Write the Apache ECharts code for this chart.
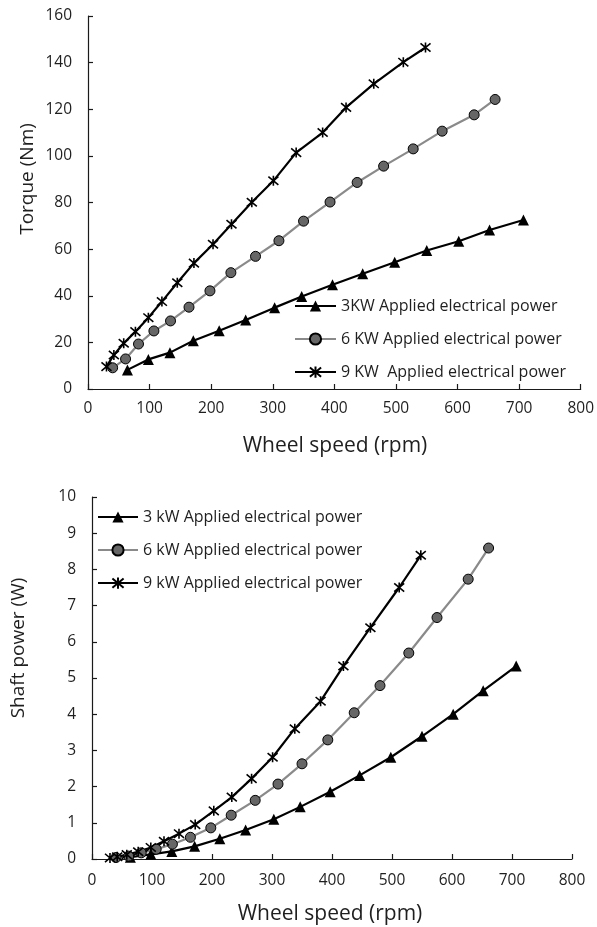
<!DOCTYPE html>
<html>
<head>
<meta charset="utf-8">
<script src="https://cdn.jsdelivr.net/npm/echarts@6/dist/echarts.min.js"></script>
<style>
  html, body { margin: 0; padding: 0; background: #fff; }
  #chart { width: 597px; height: 927px; }
</style>
</head>
<body>
<div id="chart"></div>
<script>
// Wheel speed (rpm) for each applied power level
const speed3kW = [64, 98, 133, 171, 213, 256, 303, 347, 397, 446, 498, 550, 602, 652, 707];
const speed6kW = [40, 61, 82, 107, 134, 164, 198, 232, 272, 310, 350, 393, 437, 480, 528, 575, 627, 661];
const speed9kW = [30, 42, 58, 77, 98, 120, 145, 172, 203, 233, 266, 301, 338, 381, 419, 464, 512, 548];

// Torque (Nm)
const torque3kW = [8.2, 12.7, 15.6, 20.7, 25.0, 29.6, 34.9, 39.7, 44.7, 49.4, 54.4, 59.4, 63.4, 68.2, 72.5];
const torque6kW = [9.1, 12.9, 19.3, 24.9, 29.2, 35.1, 42.1, 49.9, 56.9, 63.6, 72.0, 80.2, 88.6, 95.6, 103.0, 110.6, 117.6, 124.2];
const torque9kW = [9.6, 14.6, 19.6, 24.6, 30.6, 37.5, 45.6, 54.0, 62.1, 70.7, 80.1, 89.3, 101.4, 110.0, 120.8, 130.9, 140.2, 146.5];

// Shaft power
const power3kW = [0.05, 0.13, 0.21, 0.35, 0.56, 0.80, 1.10, 1.44, 1.86, 2.31, 2.81, 3.39, 4.00, 4.65, 5.33];
const power6kW = [0.04, 0.08, 0.17, 0.27, 0.41, 0.60, 0.86, 1.21, 1.62, 2.07, 2.63, 3.29, 4.04, 4.79, 5.69, 6.67, 7.73, 8.59];
const power9kW = [0.03, 0.06, 0.12, 0.20, 0.32, 0.49, 0.70, 0.95, 1.33, 1.71, 2.22, 2.81, 3.60, 4.36, 5.33, 6.39, 7.50, 8.39];

// Legend labels
const torqueNames = ['3KW Applied electrical power', '6 KW Applied electrical power', '9 KW  Applied electrical power'];
const powerNames = ['3 kW Applied electrical power', '6 kW Applied electrical power', '9 kW Applied electrical power'];

const FONT = 'Open Sans';
const TEXT = '#1f1f1f';
const AXIS = '#1a1a1a';

const pairs = (xs, ys) => xs.map((x, i) => [x, ys[i]]);

const STAR = 'path://M0,0L10,10M10,0L0,10M5,-1L5,11';

const styles = [
  { symbol: 'triangle', symbolSize: 11, line: '#000', item: { color: '#000' } },
  { symbol: 'circle', symbolSize: 10, line: '#8a8a8a', item: { color: '#666', borderColor: '#000', borderWidth: 1 } },
  { symbol: STAR, symbolSize: 10, line: '#000', item: { color: 'none', borderColor: '#000', borderWidth: 1.6 } }
];

function makeSeries(name, data, s, idx) {
  return {
    type: 'line',
    name: name,
    xAxisIndex: idx,
    yAxisIndex: idx,
    data: data,
    symbol: s.symbol,
    symbolSize: s.symbolSize,
    showAllSymbol: true,
    lineStyle: { color: s.line, width: 2.2 },
    itemStyle: s.item,
    emphasis: { disabled: true },
    animation: false
  };
}

function xAxisDef(idx) {
  return {
    type: 'value', gridIndex: idx, min: 0, max: 800, interval: 100,
    splitLine: { show: false },
    axisLine: { show: true, onZero: false, lineStyle: { color: AXIS, width: 1.2 } },
    axisTick: { show: true, inside: true, length: 5, lineStyle: { color: AXIS, width: 1.2 } },
    axisLabel: { color: TEXT, fontFamily: FONT, fontSize: 15.5, margin: idx === 0 ? 12 : 14 }
  };
}

function yAxisDef(idx, max) {
  return {
    type: 'value', gridIndex: idx, min: 0, max: max, interval: idx === 0 ? 20 : 1,
    splitLine: { show: false },
    axisLine: { show: true, lineStyle: { color: AXIS, width: 1.2 } },
    axisTick: { show: true, inside: true, length: 5, lineStyle: { color: AXIS, width: 1.2 } },
    axisLabel: { color: TEXT, fontFamily: FONT, fontSize: 15.5, margin: 16 }
  };
}

const chart = echarts.init(document.getElementById('chart'), null, { renderer: 'canvas' });

chart.setOption({
  backgroundColor: '#fff',
  animation: false,
  grid: [
    { left: 88, right: 14, top: 16, bottom: 538 },
    { left: 92, right: 25, top: 497, bottom: 68 }
  ],
  xAxis: [xAxisDef(0), xAxisDef(1)],
  yAxis: [yAxisDef(0, 160), yAxisDef(1, 10)],
  legend: [
    {
      data: torqueNames, orient: 'vertical', left: 294, top: 298, padding: 0,
      itemWidth: 41, itemHeight: 14, itemGap: 17,
      textStyle: { color: TEXT, fontFamily: FONT, fontSize: 16 },
      selectedMode: false
    },
    {
      data: powerNames, orient: 'vertical', left: 97, top: 509, padding: 0,
      itemWidth: 40, itemHeight: 14, itemGap: 17,
      textStyle: { color: TEXT, fontFamily: FONT, fontSize: 16 },
      selectedMode: false
    }
  ],
  series: [
    makeSeries(torqueNames[0], pairs(speed3kW, torque3kW), styles[0], 0),
    makeSeries(torqueNames[1], pairs(speed6kW, torque6kW), styles[1], 0),
    makeSeries(torqueNames[2], pairs(speed9kW, torque9kW), styles[2], 0),
    makeSeries(powerNames[0], pairs(speed3kW, power3kW), styles[0], 1),
    makeSeries(powerNames[1], pairs(speed6kW, power6kW), styles[1], 1),
    makeSeries(powerNames[2], pairs(speed9kW, power9kW), styles[2], 1)
  ],
  graphic: [
    { type: 'text', x: 28, y: 179, rotation: Math.PI / 2,
      style: { text: 'Torque (Nm)', fill: TEXT, font: '19px "Open Sans"', align: 'center', verticalAlign: 'middle' } },
    { type: 'text', x: 335, y: 446,
      style: { text: 'Wheel speed (rpm)', fill: TEXT, font: '21px "Open Sans"', align: 'center', verticalAlign: 'middle' } },
    { type: 'text', x: 19, y: 648, rotation: Math.PI / 2,
      style: { text: 'Shaft power (W)', fill: TEXT, font: '19px "Open Sans"', align: 'center', verticalAlign: 'middle' } },
    { type: 'text', x: 330, y: 914,
      style: { text: 'Wheel speed (rpm)', fill: TEXT, font: '21px "Open Sans"', align: 'center', verticalAlign: 'middle' } }
  ]
});
</script>
</body>
</html>
